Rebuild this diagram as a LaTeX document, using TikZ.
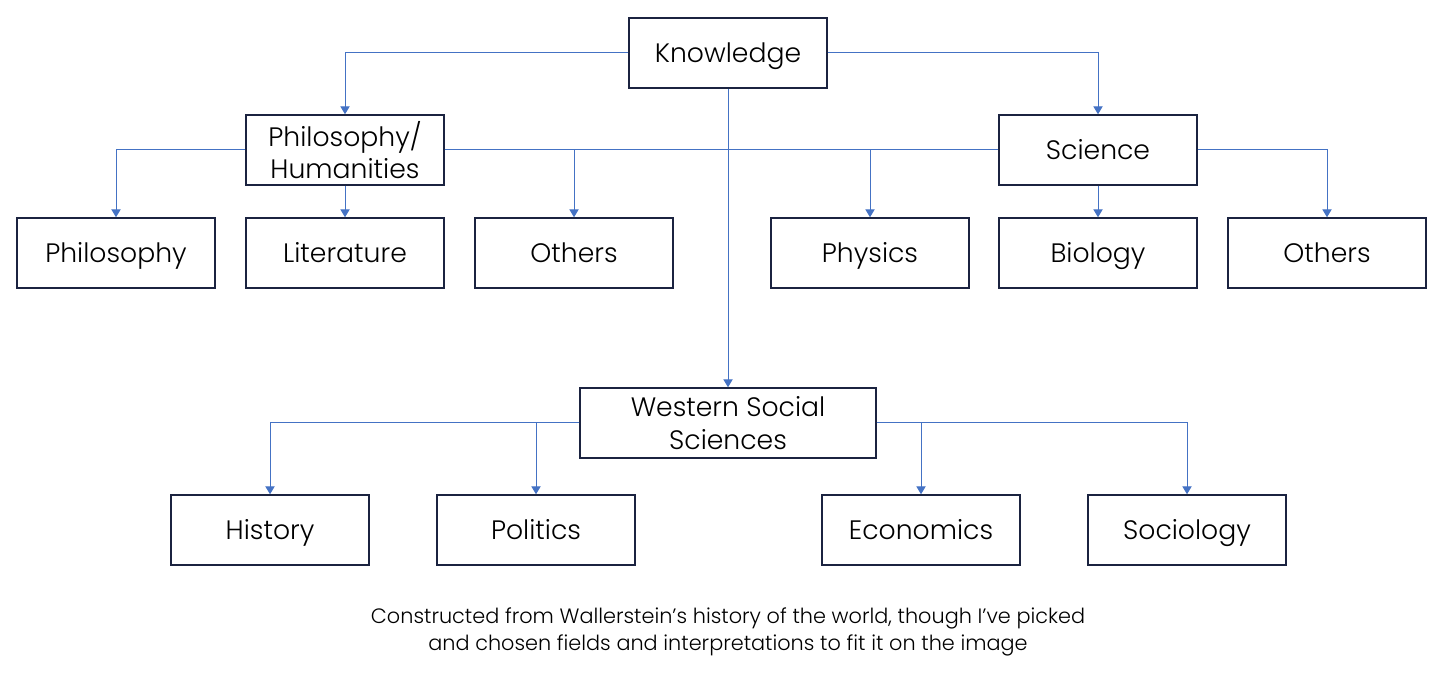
\documentclass[tikz,border=0pt]{standalone}
\usepackage{fontspec}
\setmainfont{Poppins}[UprightFont=* Light]
\usetikzlibrary{arrows.meta}
\definecolor{conn}{HTML}{4472C4}
\definecolor{boxc}{HTML}{1B2340}
\begin{document}
\begin{tikzpicture}[x=0.75pt,y=-0.75pt,
  boxbase/.style={draw=boxc,line width=1.1pt,minimum width=148.5pt,minimum height=52.5pt,inner sep=0pt,align=center,font=\fontsize{20}{24.5}\selectfont},
  box/.style={boxbase,text height=16pt,text depth=2pt},
  twoline/.style={boxbase},
  wide/.style={boxbase,minimum width=222pt},
  link/.style={draw=conn,line width=0.75pt,-{Triangle[length=6pt,width=7pt]}},
  plain/.style={draw=conn,line width=0.75pt}]
\useasboundingbox (0,0) rectangle (1456,680);
\node[box] (know) at (728,53) {Knowledge};
\node[twoline] (ph) at (345,150) {Philosophy/\\Humanities};
\node[box] (sci) at (1098,150) {Science};
\node[box] (phil) at (116,253) {Philosophy};
\node[box] (lit) at (345,253) {Literature};
\node[box] (oth1) at (574,253) {Others};
\node[box] (phys) at (870,253) {Physics};
\node[box] (bio) at (1098,253) {Biology};
\node[box] (oth2) at (1327,253) {Others};
\node[wide] (wss) at (728,423) {Western Social\\Sciences};
\node[box] (hist) at (270,530) {History};
\node[box] (pol) at (536,530) {Politics};
\node[box] (eco) at (921,530) {Economics};
\node[box] (soc) at (1187,530) {Sociology};
\node[align=center,font=\fontsize{15.6}{20.25}\selectfont] (cap) at (728,632)
  {Constructed from Wallerstein's history of the world, though I've picked\\and chosen fields and interpretations to fit it on the image};
\draw[link] (know.west) -| (ph.north);
\draw[link] (know.east) -| (sci.north);
\draw[link] (know.south) -- (wss.north);
\draw[plain] (ph.east) -- (sci.west);
\draw[link] (ph.west) -| (phil.north);
\draw[link] (ph.south) -- (lit.north);
\draw[link] (ph.east) -| (oth1.north);
\draw[link] (sci.west) -| (phys.north);
\draw[link] (sci.south) -- (bio.north);
\draw[link] (sci.east) -| (oth2.north);
\draw[link] (wss.west) -| (hist.north);
\draw[link] (wss.west) -| (pol.north);
\draw[link] (wss.east) -| (eco.north);
\draw[link] (wss.east) -| (soc.north);
\end{tikzpicture}
\end{document}
